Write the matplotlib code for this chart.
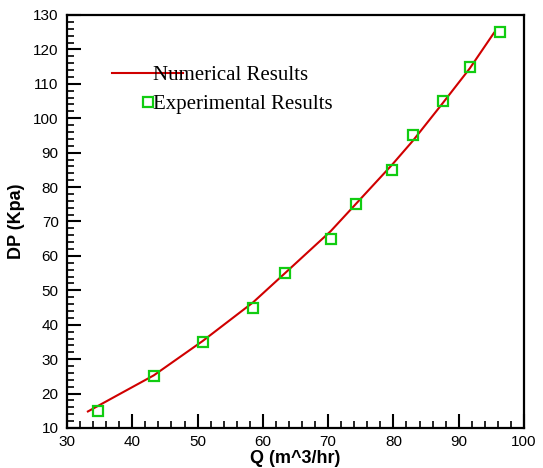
import matplotlib.pyplot as plt
from matplotlib.ticker import MultipleLocator

# Numerical results (curve)
q_num = [33.2, 38.0, 43.3, 50.8, 58.5, 63.4, 70.4, 74.2, 79.8, 83.0, 87.6, 91.7, 95.4]
dp_num = [14.8, 19.8, 25.3, 35.3, 46.5, 55.0, 67.2, 75.0, 86.5, 93.5, 104.5, 114.5, 124.8]

# Experimental results
q_exp = [34.7, 43.3, 50.8, 58.5, 63.4, 70.4, 74.2, 79.8, 83.0, 87.6, 91.7, 96.3]
dp_exp = [15, 25, 35, 45, 55, 65, 75, 85, 95, 105, 115, 125]

fig = plt.figure(figsize=(5.43, 4.68), dpi=100)
ax = fig.add_axes([0.1234, 0.0855, 0.8416, 0.8825])

ax.plot(q_num, dp_num, color='#d00000', lw=1.5, label='Numerical Results')
ax.plot(q_exp, dp_exp, ls='none', marker='s', ms=7.5, mfc='none',
        mec='#11cc11', mew=1.6, label='Experimental Results')

ax.set_xlim(30, 100)
ax.set_ylim(10, 130)
ax.xaxis.set_major_locator(MultipleLocator(10))
ax.xaxis.set_minor_locator(MultipleLocator(2))
ax.yaxis.set_major_locator(MultipleLocator(10))
ax.yaxis.set_minor_locator(MultipleLocator(2))

ax.tick_params(which='both', direction='in', top=False, right=False, width=1.5)
ax.tick_params(which='major', length=10, labelsize=11, pad=6)
ax.tick_params(axis='x', which='major', pad=5)
ax.tick_params(which='minor', length=5, width=1.2)
for lab in ax.get_xticklabels() + ax.get_yticklabels():
    lab.set_fontfamily('Liberation Sans')
for sp in ax.spines.values():
    sp.set_linewidth(1.6)

ax.set_xlabel('Q (m^3/hr)', fontsize=13, fontweight='bold', family='Liberation Sans', labelpad=1)
ax.set_ylabel('DP (Kpa)', fontsize=13, fontweight='bold', family='Liberation Sans', labelpad=6)

leg = ax.legend(loc='upper left', bbox_to_anchor=(0.098, 0.877), frameon=False,
                prop={'family': 'Liberation Serif', 'size': 15},
                handlelength=3.44, handletextpad=-1.46, labelspacing=0.45,
                borderpad=0, borderaxespad=0)

plt.savefig('out.png', dpi=100)
